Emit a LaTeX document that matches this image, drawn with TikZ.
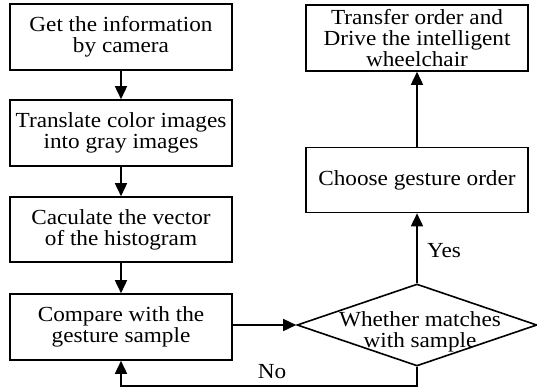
\documentclass[tikz,border=0pt]{standalone}
\usepackage{fontspec}
\setmainfont[FakeStretch=1.08]{Liberation Serif}
\usetikzlibrary{arrows.meta,shapes.geometric}
\begin{document}
\begin{tikzpicture}[x=1pt,y=-1pt,
  every node/.style={font=\fontsize{21.5}{21}\selectfont, inner sep=0pt},
  box/.style={draw, line width=1.6pt, minimum width=222pt, minimum height=66pt, align=center},
  dia/.style={draw, line width=1.6pt, shape=diamond, minimum width=240pt, minimum height=82pt},
  conn/.style={line width=1.6pt, -{Triangle[width=12pt,length=13pt]}},
  lbl/.style={align=center}]
\useasboundingbox (0,0) rectangle (537,388);
\node[box] (b1) at (121,37) {Get the information\\by camera};
\node[box] (b2) at (121,133) {Translate color images\\into gray images};
\node[box, minimum height=65pt] (b3) at (121,229.5) {Caculate the vector\\of the histogram};
\node[box] (b4) at (121,327) {Compare with the\\gesture sample};
\node[box] (tr) at (417,38) {Transfer order and\\Drive the intelligent\\wheelchair};
\node[box, minimum height=65pt] (ch) at (417,180) {Choose gesture order};
\node[dia] (d) at (417,325) {};
\node[lbl] (dt) at (420,332) {Whether matches\\with sample};
\coordinate (nc) at (417,386);
\draw[conn] (b1) -- (b2);
\draw[conn] (b2) -- (b3);
\draw[conn] (b3) -- (b4);
\draw[conn] (b4.east |- d.west) -- (d.west);
\draw[conn] (d.north) -- (ch.south);
\draw[conn] (ch.north) -- (tr.south);
\draw[conn] (d.south) -- (nc) -| (b4.south);
\node[lbl] (yes) at (444,251) {Yes};
\node[lbl] (no) at (272,372) {No};
\end{tikzpicture}
\end{document}
